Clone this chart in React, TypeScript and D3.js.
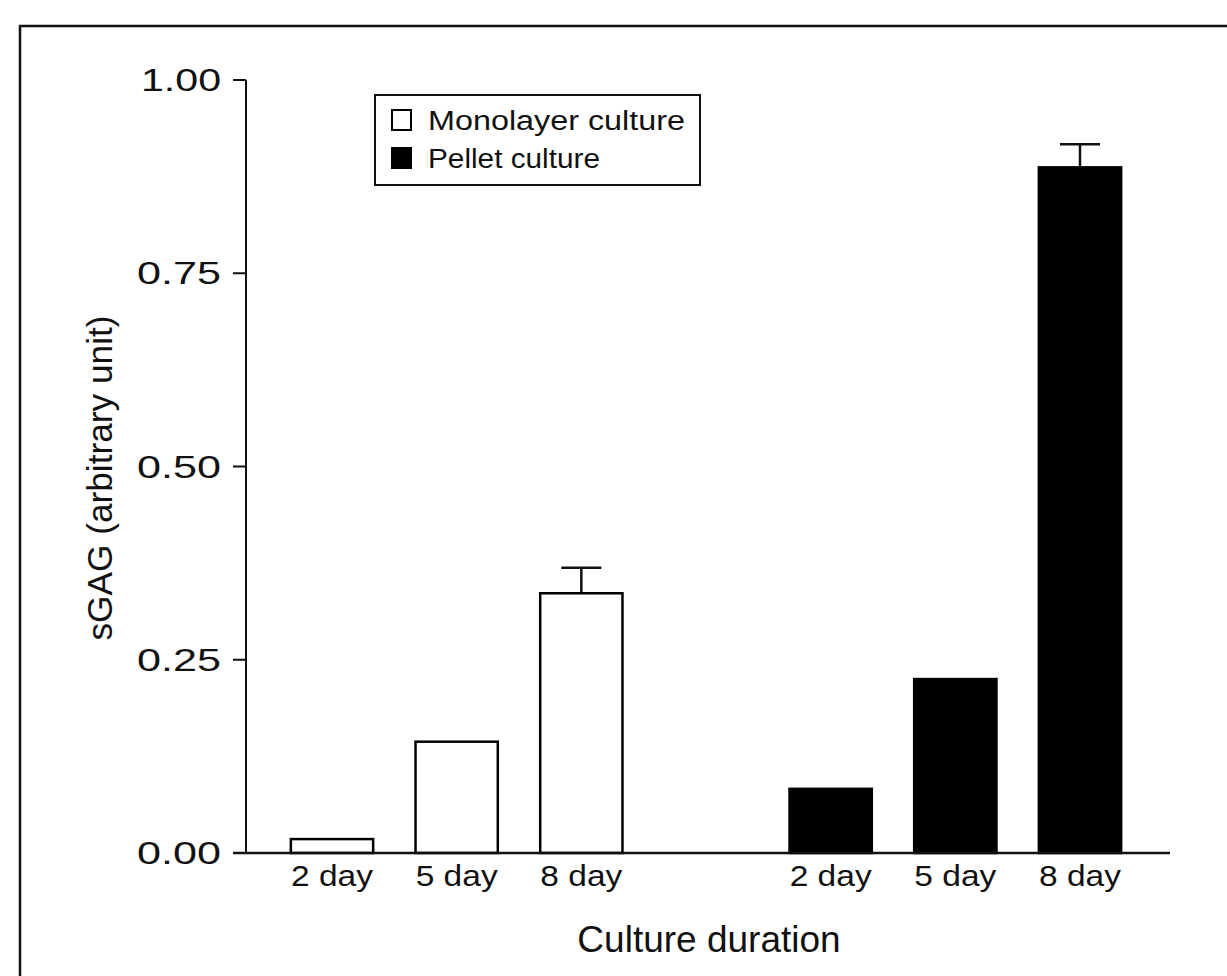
import React from 'react'
import { scaleLinear, scalePoint } from 'd3'

const slots = ['m2', 'm5', 'm8', 'gap', 'p2', 'p5', 'p8']
const dayLabels = ['2 day', '5 day', '8 day', '', '2 day', '5 day', '8 day']
const monolayer = [0.018, 0.144, 0.336]
const monolayerErr = [0, 0, 0.033]
const pellet = [0.083, 0.225, 0.887]
const pelletErr = [0, 0, 0.03]
const yTicks = [0, 0.25, 0.5, 0.75, 1]
const legendLabels = ['Monolayer culture', 'Pellet culture']

const width = 1227
const height = 976
const font = '"Liberation Sans", Arial, sans-serif'

const bars = [
  ...monolayer.map((v, i) => ({ slot: slots[i], value: v, err: monolayerErr[i], fill: '#fff' })),
  ...pellet.map((v, i) => ({ slot: slots[i + 4], value: v, err: pelletErr[i], fill: '#000' })),
]

export default function App() {
  const y = scaleLinear().domain([0, 1]).range([853, 80])
  const x = scalePoint<string>().domain(slots).range([332, 1080])
  const barW = x.step() * 0.66
  const capW = 40
  const axisX = 246

  return (
    <svg width={width} height={height} style={{ position: 'absolute', left: 0, top: 0, background: '#fff' }}>
      {/* scanned page frame */}
      <rect x={20} y={26} width={1240} height={1000} fill="none" stroke="#111" strokeWidth={2.5} />

      {/* bars */}
      {bars.map(d => (
        <g key={d.slot}>
          {d.err > 0 && (
            <g stroke="#111" strokeWidth={2.5}>
              <line x1={x(d.slot)} x2={x(d.slot)} y1={y(d.value)} y2={y(d.value + d.err)} />
              <line x1={x(d.slot)! - capW / 2} x2={x(d.slot)! + capW / 2} y1={y(d.value + d.err)} y2={y(d.value + d.err)} />
            </g>
          )}
          <rect
            x={x(d.slot)! - barW / 2}
            y={y(d.value)}
            width={barW}
            height={y(0) - y(d.value)}
            fill={d.fill}
            stroke="#000"
            strokeWidth={2.5}
          />
        </g>
      ))}

      {/* y axis */}
      <line x1={axisX} x2={axisX} y1={y(1)} y2={y(0)} stroke="#111" strokeWidth={2} />
      {yTicks.map(t => (
        <g key={t} transform={`translate(0,${y(t)})`}>
          <line x1={axisX - 13} x2={axisX} stroke="#111" strokeWidth={2} />
          <text x={221} dy={11} textAnchor="end" fontFamily={font} fontSize={31} fill="#111"
            textLength={t === 1 ? 80 : 84} lengthAdjust="spacingAndGlyphs">
            {t.toFixed(2)}
          </text>
        </g>
      ))}

      {/* x axis baseline */}
      <line x1={axisX - 13} x2={1170} y1={y(0)} y2={y(0)} stroke="#111" strokeWidth={2.5} />
      {slots.map((s, i) =>
        dayLabels[i] ? (
          <text key={s} x={x(s)} y={886} textAnchor="middle" fontFamily={font} fontSize={29}
            textLength={82} lengthAdjust="spacingAndGlyphs" fill="#111">
            {dayLabels[i]}
          </text>
        ) : null
      )}
      <text x={709} y={952} textAnchor="middle" fontFamily={font} fontSize={37} fill="#111">
        Culture duration
      </text>

      <text transform={`translate(112,478) rotate(-90)`} textAnchor="middle" fontFamily={font} fontSize={35}
        textLength={325} lengthAdjust="spacingAndGlyphs" fill="#111">
        sGAG (arbitrary unit)
      </text>

      {/* legend */}
      <rect x={375} y={95} width={325} height={90} fill="#fff" stroke="#111" strokeWidth={2} />
      {legendLabels.map((l, i) => (
        <g key={l} transform={`translate(392,${110 + i * 38})`}>
          <rect x={0} y={0} width={19} height={20} fill={i === 0 ? '#fff' : '#000'} stroke="#000" strokeWidth={2} />
          <text x={36} y={20} fontFamily={font} fontSize={27} fill="#111"
            textLength={i === 0 ? 257 : 172} lengthAdjust="spacingAndGlyphs">
            {l}
          </text>
        </g>
      ))}
    </svg>
  )
}
